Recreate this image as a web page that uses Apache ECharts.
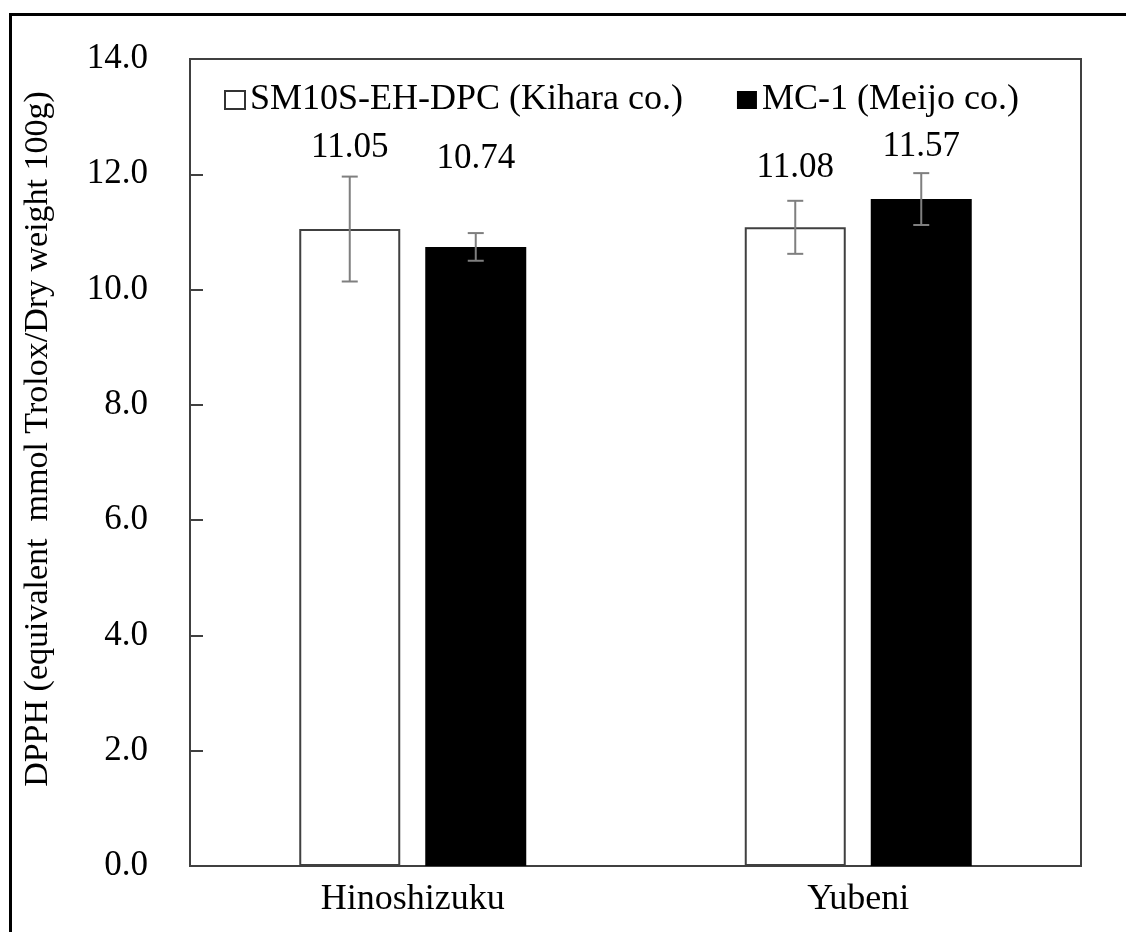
<!DOCTYPE html>
<html>
<head>
<meta charset="utf-8">
<script src="https://cdn.jsdelivr.net/npm/echarts@6/dist/echarts.min.js"></script>
<style>
html,body{margin:0;padding:0;background:#fff;}
#main{width:1126px;height:932px;}
</style>
</head>
<body>
<div id="main"></div>
<script>
// ---- data ----
const categories = ['Hinoshizuku', 'Yubeni'];
const seriesNames = ['SM10S-EH-DPC (Kihara co.)', 'MC-1 (Meijo co.)'];
const kiharaValues = [11.05, 11.08];
const meijoValues = [10.74, 11.57];
const kiharaErr = [0.91, 0.46];
const meijoErr = [0.24, 0.45];
const yTicks = [0, 2, 4, 6, 8, 10, 12, 14];
const yTitle = 'DPPH (equivalent  mmol Trolox/Dry weight 100g)';

// ---- style constants ----
const FONT = '"Liberation Serif", "Times New Roman", serif';
const FS_TICK = 35;
const FS_LABEL = 35;
const FS_LEGEND = 36;
const FS_CAT = 36;
const FS_TITLE = 34;
const BAR_W = 101;
const BAR_GAP = 25;
const kiharaLabelShift = [-59, -37];
const meijoLabelShift = [-66, -30];

const chart = echarts.init(document.getElementById('main'), null, {renderer: 'canvas'});

function errSeries(values, errs, side) {
  const off = side * (BAR_W + BAR_GAP) / 2;
  return {
    type: 'custom',
    silent: true,
    z: 5,
    data: values.map((v, i) => [i, v - errs[i], v + errs[i]]),
    renderItem: function (params, api) {
      const x = api.coord([api.value(0), 0])[0] + off;
      const lo = api.coord([api.value(0), api.value(1)])[1];
      const hi = api.coord([api.value(0), api.value(2)])[1];
      const cap = 8;
      const st = {stroke: '#7f7f7f', lineWidth: 2};
      return {
        type: 'group',
        children: [
          {type: 'line', shape: {x1: x, y1: lo, x2: x, y2: hi}, style: st},
          {type: 'line', shape: {x1: x - cap, y1: lo, x2: x + cap, y2: lo}, style: st},
          {type: 'line', shape: {x1: x - cap, y1: hi, x2: x + cap, y2: hi}, style: st}
        ]
      };
    }
  };
}

function barData(values, shifts) {
  return values.map((v, i) => ({
    value: v,
    label: {offset: [0, shifts[i]]}
  }));
}

const labelStyle = {
  show: true,
  position: 'top',
  fontFamily: FONT,
  fontSize: FS_LABEL,
  color: '#000',
  formatter: p => p.value.toFixed(2)
};

const option = {
  backgroundColor: '#fff',
  animation: false,
  textStyle: {fontFamily: FONT},
  grid: {left: 190, top: 59, right: 45, bottom: 66, show: true, borderColor: '#404040', borderWidth: 2, backgroundColor: 'transparent'},
  legend: {
    left: 224,
    top: 82,
    padding: 0,
    itemWidth: 20,
    itemHeight: 18,
    itemGap: 54,
    textStyle: {fontFamily: FONT, fontSize: FS_LEGEND, color: '#000'},
    data: [
      {name: seriesNames[0], icon: 'rect', itemStyle: {color: '#fff', borderColor: '#333', borderWidth: 2}},
      {name: seriesNames[1], icon: 'rect', itemStyle: {color: '#000'}}
    ]
  },
  xAxis: {
    type: 'category',
    data: categories,
    axisLine: {lineStyle: {color: '#404040', width: 2}},
    axisTick: {show: false},
    axisLabel: {fontFamily: FONT, fontSize: FS_CAT, color: '#000', margin: 16}
  },
  yAxis: {
    type: 'value',
    min: yTicks[0],
    max: yTicks[yTicks.length - 1],
    interval: yTicks[1] - yTicks[0],
    splitLine: {show: false},
    axisLine: {show: true, lineStyle: {color: '#404040', width: 2}},
    axisTick: {show: true, inside: true, length: 13, lineStyle: {color: '#404040', width: 2}},
    axisLabel: {fontFamily: FONT, fontSize: FS_TICK, color: '#000', margin: 42, formatter: v => v.toFixed(1)}
  },
  graphic: [
    {type: 'rect', left: 8, top: 12, shape: {width: 1130, height: 930}, style: {fill: 'none', stroke: '#000', lineWidth: 3}, z: 100},
    {type: 'text', x: 38, y: 439, rotation: Math.PI / 2, style: {text: yTitle, font: FS_TITLE + 'px ' + FONT, fill: '#000', textAlign: 'center', textVerticalAlign: 'middle'}}
  ],
  series: [
    {
      name: seriesNames[0],
      type: 'bar',
      barWidth: BAR_W,
      barGap: (BAR_GAP / BAR_W * 100) + '%',
      itemStyle: {color: '#fff', borderColor: '#404040', borderWidth: 2},
      label: labelStyle,
      data: barData(kiharaValues, kiharaLabelShift)
    },
    {
      name: seriesNames[1],
      type: 'bar',
      barWidth: BAR_W,
      itemStyle: {color: '#000'},
      label: labelStyle,
      data: barData(meijoValues, meijoLabelShift)
    },
    errSeries(kiharaValues, kiharaErr, -1),
    errSeries(meijoValues, meijoErr, 1)
  ]
};
chart.setOption(option);
</script>
</body>
</html>
